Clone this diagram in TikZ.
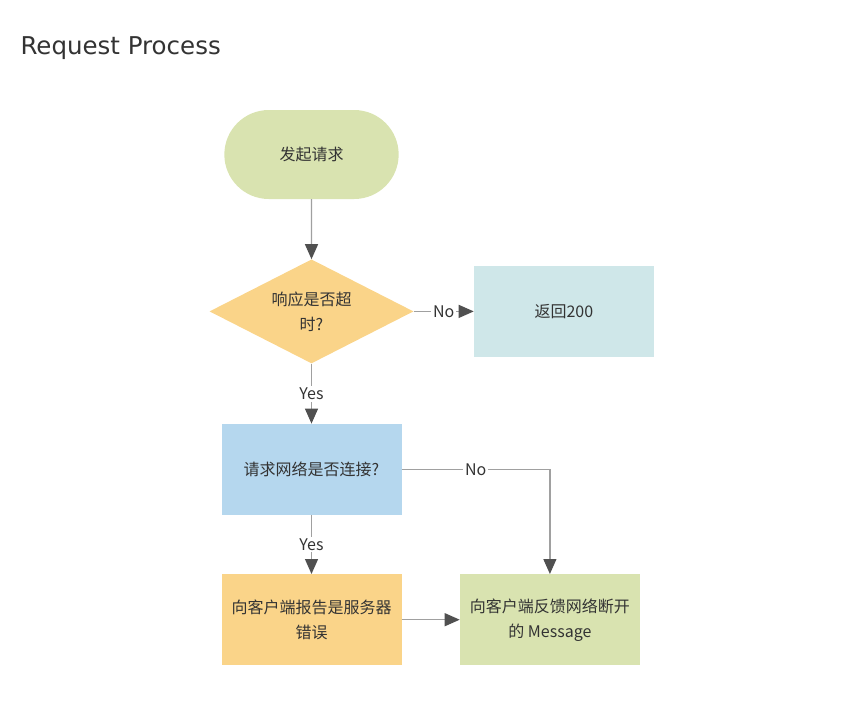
\documentclass[tikz,border=0pt]{standalone}
\usepackage{fontspec}
\setmainfont{Noto Sans CJK SC}
\newfontfamily\titlefont{DejaVu Sans}
\usepackage{tikz}
\usetikzlibrary{arrows.meta, positioning, shapes.geometric, shapes.misc}
\usepackage{xcolor}
\definecolor{startgreen}{HTML}{D9E3B0}
\definecolor{decorange}{HTML}{FAD489}
\definecolor{okteal}{HTML}{CFE7E9}
\definecolor{netblue}{HTML}{B5D7EE}
\definecolor{linegray}{HTML}{A0A0A0}
\definecolor{tipgray}{HTML}{505050}
\definecolor{textgray}{HTML}{333333}

\begin{document}
\begin{tikzpicture}[
    x=1pt, y=-1pt,
    node distance=60pt,
    every node/.style={font=\fontsize{16}{25}\selectfont, text=textgray},
    box/.style={rectangle, minimum width=180pt, minimum height=91pt, align=center, inner sep=0pt},
    start/.style={rounded rectangle, fill=startgreen, minimum width=181pt, minimum height=89pt, align=center},
    decision/.style={diamond, fill=decorange, minimum width=204pt, minimum height=104pt, inner sep=-12pt, align=center},
    line/.style={-{Triangle[length=15pt, width=13pt, color=tipgray]}, draw=linegray, line width=1.2pt},
    lbl/.style={fill=white, inner sep=2pt}
]
\useasboundingbox (0,0) rectangle (842,726);
\node[anchor=base west, font=\titlefont\fontsize{24.5}{30}\selectfont] (title) at (17,54) {Request Process};

\node[start] (begin) at (311.5,154.5) {发起请求};
\node[decision, below=of begin] (timeout) {响应是否超\\时?};
\node[box, fill=okteal, right=of timeout] (ok) {返回200};
\node[box, fill=netblue, below=of timeout] (netcheck) {请求网络是否连接?};
\node[box, fill=decorange, below=59pt of netcheck] (srverr) {向客户端报告是服务器\\错误};
\node[box, fill=startgreen, right=58pt of srverr] (netmsg) {向客户端反馈网络断开\\的 Message};

\draw[line] (begin) -- (timeout);
\draw[line] (timeout) -- node[lbl]{No} (ok);
\draw[line] (timeout) -- node[lbl]{Yes} (netcheck);
\draw[line] (netcheck) -- node[lbl]{Yes} (srverr);
\draw[line] (netcheck.east) -| node[lbl, pos=0.25]{No} (netmsg.north);
\draw[line] (srverr) -- (netmsg);
\end{tikzpicture}
\end{document}
